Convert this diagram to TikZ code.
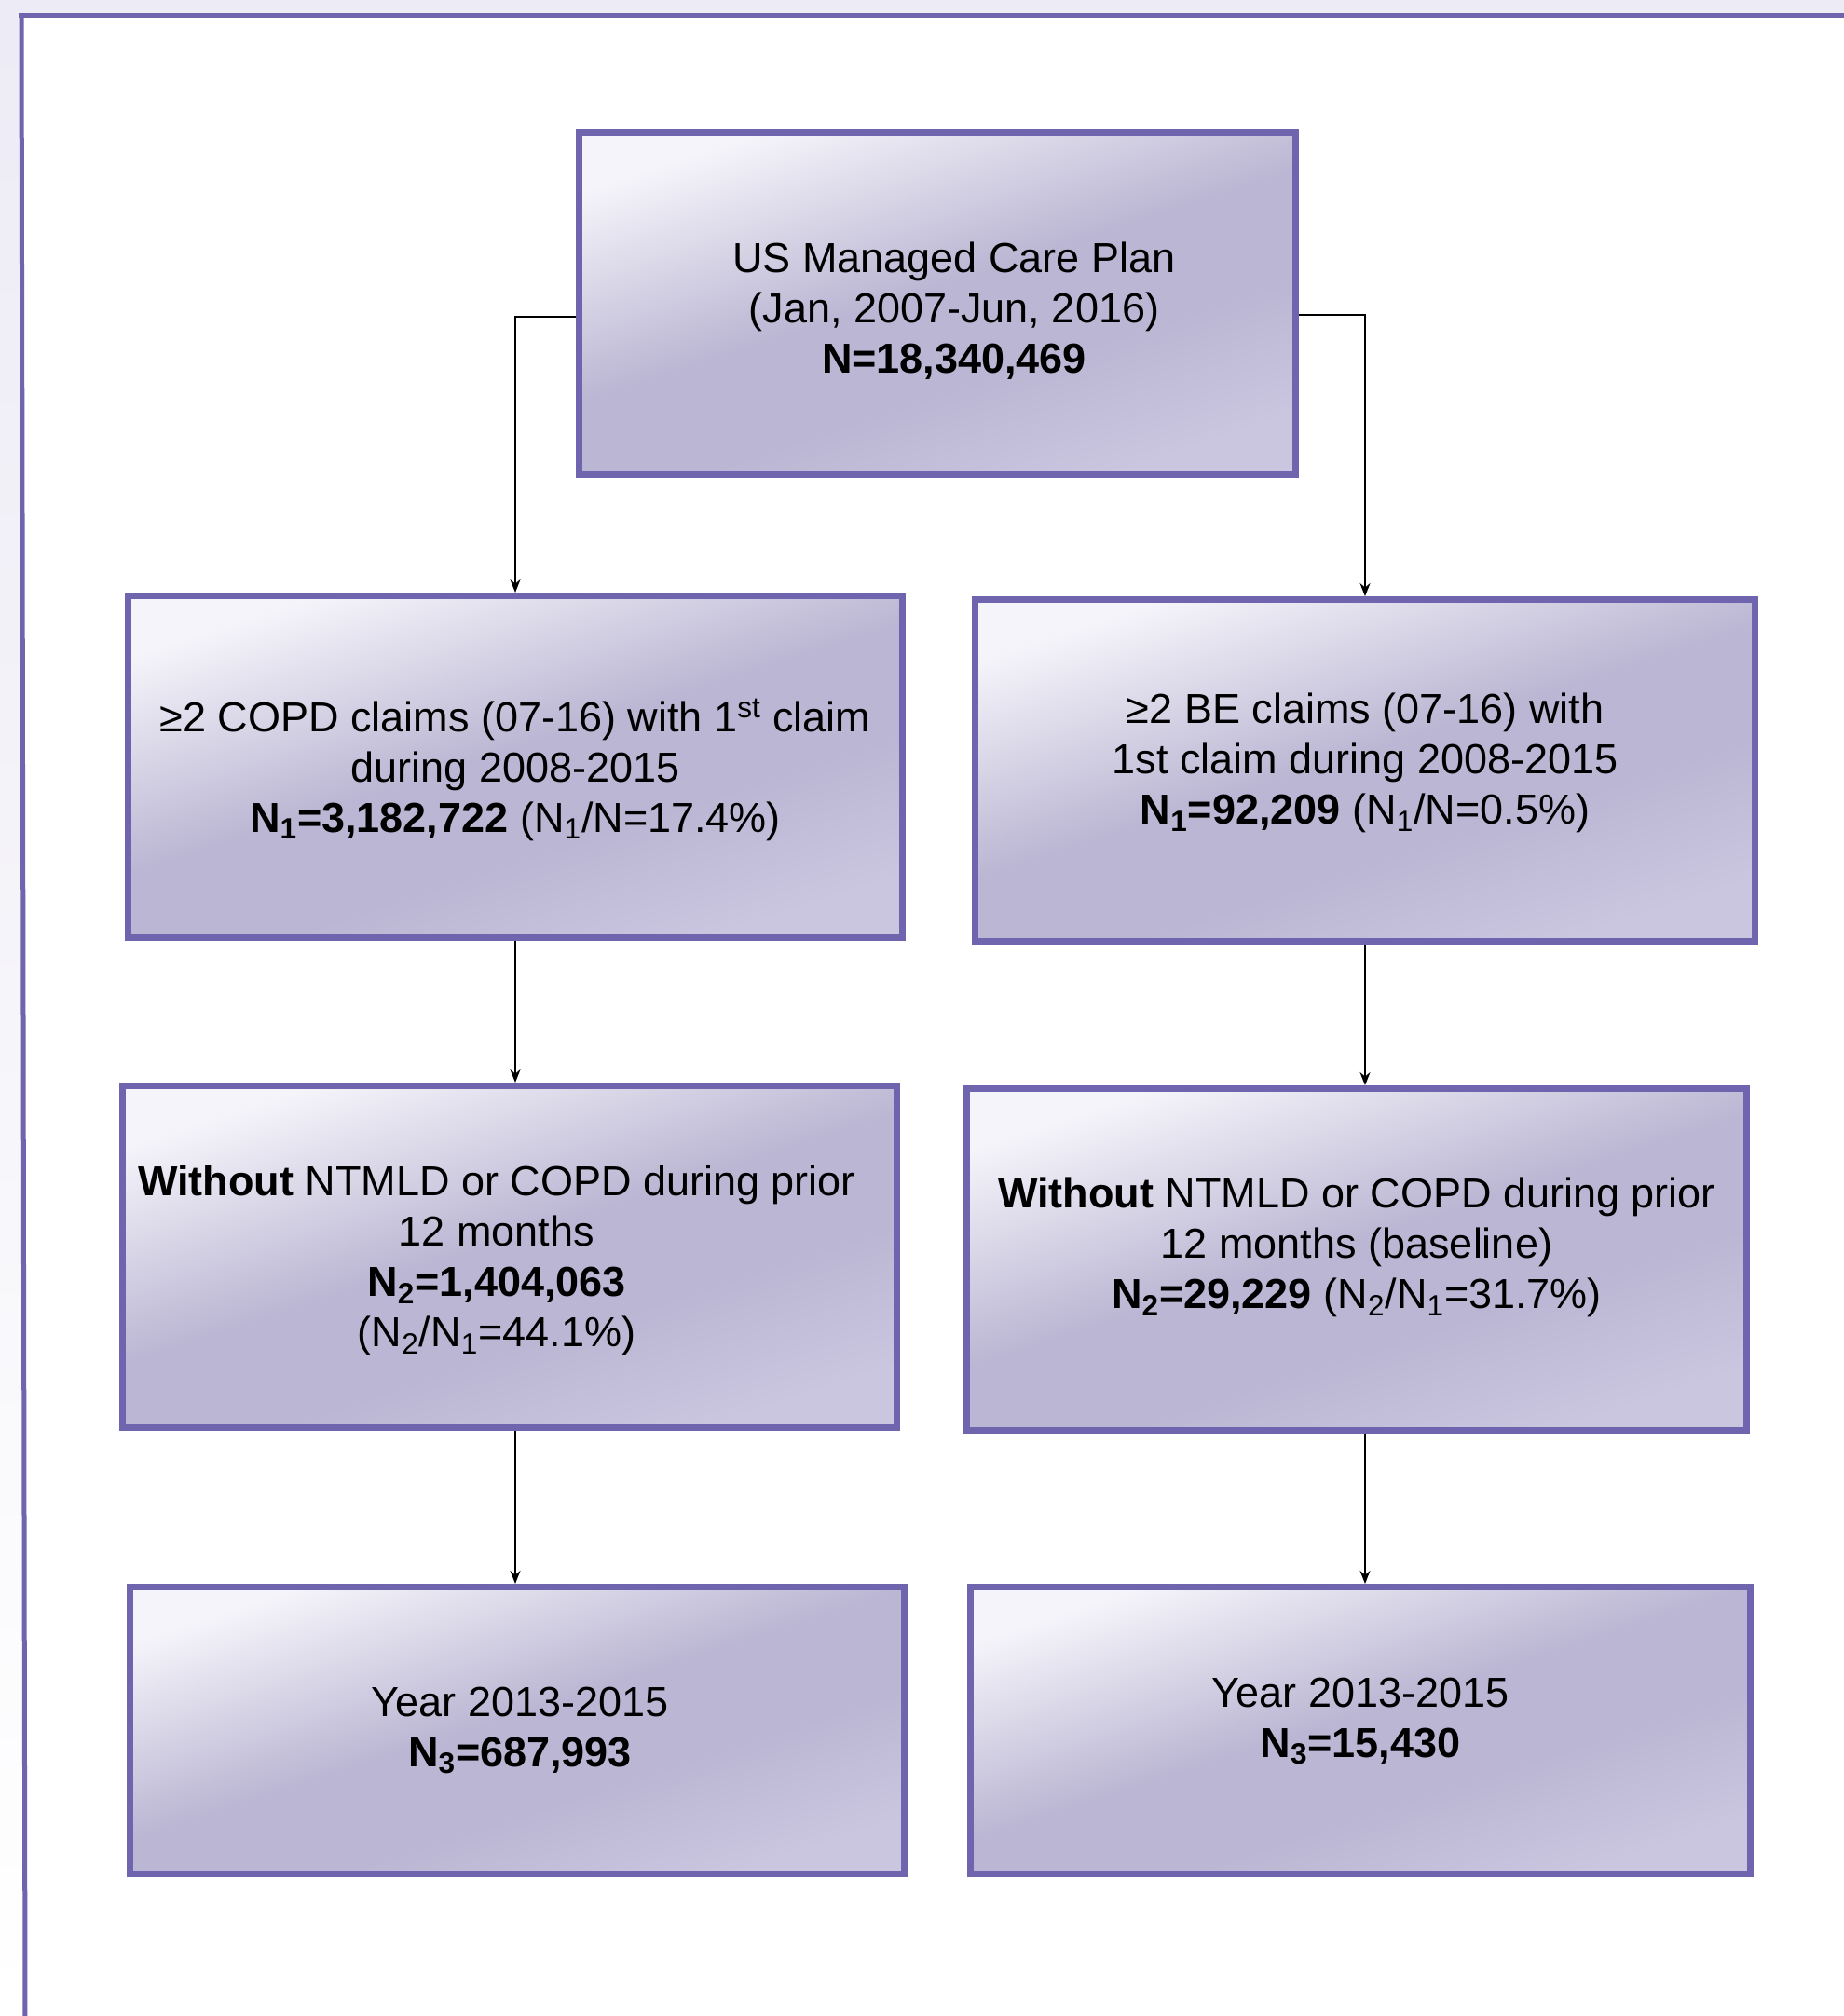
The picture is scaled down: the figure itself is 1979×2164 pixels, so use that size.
\documentclass[tikz,border=0pt]{standalone}
\usepackage{fontspec}
\setmainfont{Liberation Sans}
\usetikzlibrary{positioning, arrows.meta}

\definecolor{boxborder}{RGB}{111,101,174}
\definecolor{boxlight}{RGB}{245,244,250}
\definecolor{boxmid}{RGB}{187,182,211}
\definecolor{boxend}{RGB}{202,198,224}
\definecolor{pagetint}{RGB}{237,235,245}
\pgfdeclareverticalshading{boxfade}{100bp}{color(0bp)=(boxend); color(25bp)=(boxend);
  color(40bp)=(boxmid); color(52bp)=(boxmid); color(75bp)=(boxlight); color(100bp)=(boxlight)}

\begin{document}
\begin{tikzpicture}[x=0.5pt, y=-0.5pt, >={Stealth[length=7pt,width=5.5pt]},
    box/.style={rectangle, draw=boxborder, line width=3.5pt,
      shading=boxfade, shading angle=18,
      minimum width=415.5pt, minimum height=183.5pt},
    widebox/.style={minimum width=418.5pt},
    shortbox/.style={minimum height=154pt},
    boxtext/.style={align=center, font=\fontsize{22.5pt}{27pt}\selectfont},
    flow/.style={->, line width=1pt, black}]

  % page and frame
  \useasboundingbox (0,0) rectangle (1979,2164);
  \fill[white] (0,0) rectangle (1979,2164);
  \fill[pagetint] (0,0) rectangle (1979,14);
  \shade[top color=pagetint, bottom color=white] (0,14) rectangle (24,2164);
  \draw[boxborder, line width=2.5pt] (20,16.5) -- (1979,16.5);
  \draw[boxborder, line width=2.5pt] (23,14) -- (27,2164);

  % boxes
  \node[box, minimum width=384.5pt] (plan) at (1006,326) {};
  \node[box] (copd) at (553,823) {};
  \node[box, widebox] (be) at (1465,827) {};
  \node[box] (copdbase) [below=76pt of copd, xshift=-3pt] {};
  \node[box, widebox] (bebase) [below=75.5pt of be, xshift=-4.5pt] {};
  \node[box, shortbox] (copdyear) [below=82pt of copdbase, xshift=4pt] {};
  \node[box, widebox, shortbox] (beyear) [below=80.5pt of bebase, xshift=2pt] {};

  % texts
  \node[boxtext] (plantext) at ([xshift=9pt, yshift=-4pt]plan.center)
    {US Managed Care Plan\\(Jan, 2007-Jun, 2016)\\\textbf{N=18,340,469}};
  \node[boxtext] (copdtext) at ([yshift=-1.5pt]copd.center)
    {≥2 COPD claims (07-16) with 1\textsuperscript{st} claim\\during 2008-2015\\
     \textbf{N\textsubscript{1}=3,182,722} (N\textsubscript{1}/N=17.4\%)};
  \node[boxtext] (betext) at ([yshift=4pt]be.center)
    {≥2 BE claims (07-16) with\\1st claim during 2008-2015\\
     \textbf{N\textsubscript{1}=92,209} (N\textsubscript{1}/N=0.5\%)};
  \node[boxtext] (copdbasetext) at ([xshift=-7pt, yshift=-2pt]copdbase.center)
    {\textbf{Without} NTMLD or COPD during prior\\12 months\\
     \textbf{N\textsubscript{2}=1,404,063}\\(N\textsubscript{2}/N\textsubscript{1}=44.1\%)};
  \node[boxtext] (bebasetext) at ([yshift=6.5pt]bebase.center)
    {\textbf{Without} NTMLD or COPD during prior\\12 months (baseline)\\
     \textbf{N\textsubscript{2}=29,229} (N\textsubscript{2}/N\textsubscript{1}=31.7\%)};
  \node[boxtext] (copdyeartext) at ([xshift=1.5pt]copdyear.center)
    {Year 2013-2015\\\textbf{N\textsubscript{3}=687,993}};
  \node[boxtext] (beyeartext) at ([yshift=5pt]beyear.center)
    {Year 2013-2015\\\textbf{N\textsubscript{3}=15,430}};

  % arrows
  \draw[flow] ([yshift=-7pt]plan.west) -| (copd.north);
  \draw[flow] ([yshift=-6pt]plan.east) -| (be.north);
  \draw[flow] (copd.south) -- (copd.south |- copdbase.north);
  \draw[flow] (copd.south |- copdbase.south) -- (copd.south |- copdyear.north);
  \draw[flow] (be.south) -- (be.south |- bebase.north);
  \draw[flow] (be.south |- bebase.south) -- (be.south |- beyear.north);
\end{tikzpicture}
\end{document}
